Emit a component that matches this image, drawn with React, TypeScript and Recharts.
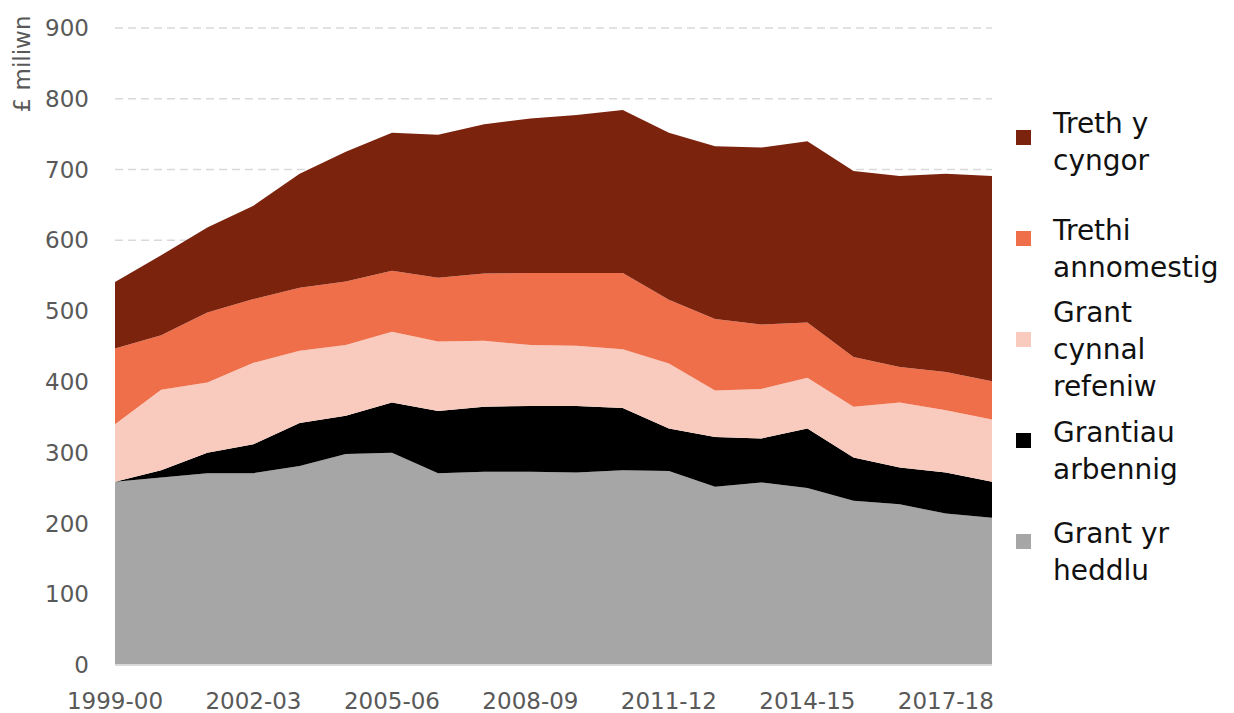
import { AreaChart, Area, XAxis, YAxis, CartesianGrid, Legend } from 'recharts';

const years = [
    '1999-00', '2000-01', '2001-02', '2002-03', '2003-04', '2004-05', '2005-06',
    '2006-07', '2007-08', '2008-09', '2009-10', '2010-11', '2011-12', '2012-13',
    '2013-14', '2014-15', '2015-16', '2016-17', '2017-18', '2018-19',
];
const grantHeddlu = [259, 265, 271, 271, 281, 298, 300, 271, 273, 273, 272, 275, 274, 252, 258, 250, 232, 227, 214, 208];
const grantiauArbennig = [0, 10, 29, 41, 61, 54, 71, 88, 92, 93, 94, 88, 60, 70, 62, 84, 61, 52, 58, 51];
const grantCynnal = [81, 114, 99, 115, 102, 100, 100, 98, 93, 86, 85, 83, 92, 66, 70, 72, 72, 92, 88, 88];
const trethiAnnomestig = [107, 77, 99, 90, 89, 90, 86, 90, 95, 102, 103, 108, 90, 101, 91, 78, 70, 50, 54, 54];
const trethCyngor = [94, 113, 120, 132, 161, 183, 195, 202, 211, 218, 223, 230, 236, 244, 250, 256, 263, 270, 280, 290];
const yTicks = [0, 100, 200, 300, 400, 500, 600, 700, 800, 900];

// bottom of the stack first
const series = [
    { key: 'heddlu', name: 'Grant yr heddlu', lines: ['Grant yr', 'heddlu'], color: '#a6a6a6', values: grantHeddlu },
    { key: 'arbennig', name: 'Grantiau arbennig', lines: ['Grantiau', 'arbennig'], color: '#000000', values: grantiauArbennig },
    { key: 'cynnal', name: 'Grant cynnal refeniw', lines: ['Grant', 'cynnal', 'refeniw'], color: '#f9cbbe', values: grantCynnal },
    { key: 'trethi', name: 'Trethi annomestig', lines: ['Trethi', 'annomestig'], color: '#ef6f4b', values: trethiAnnomestig },
    { key: 'treth', name: 'Treth y cyngor', lines: ['Treth y', 'cyngor'], color: '#7b230d', values: trethCyngor },
];

const data = years.map((year, i) => {
    const row: Record<string, string | number> = { year };
    series.forEach((s) => {
        row[s.key] = s.values[i];
    });
    return row;
});

const FONT = "'DejaVu Sans', sans-serif";

function renderLegend() {
    return (
        <div style={{ fontFamily: FONT }}>
            {[...series].reverse().map((s, i) => (
                <div
                    key={s.key}
                    style={{ height: 101, display: 'flex', alignItems: 'center' }}
                >
                    <div style={{ width: 15, height: 15, background: s.color, marginRight: 22, flexShrink: 0 }} />
                    <div style={{ fontSize: 28, lineHeight: '37px', color: '#111', paddingTop: i === 0 ? 8 : 20 }}>
                        {s.lines.map((l) => (
                            <div key={l}>{l}</div>
                        ))}
                    </div>
                </div>
            ))}
        </div>
    );
}

export default function App() {
    return (
        <div style={{ position: 'relative', width: 1234, height: 713, background: '#fff', fontFamily: FONT }}>
            <style>{`body{margin:0;overflow:hidden}`}</style>
            <AreaChart
                width={1234}
                height={713}
                data={data}
                margin={{ top: 28, right: 242, bottom: 0, left: 0 }}
            >
                <CartesianGrid vertical={false} stroke='#d9d9d9' strokeDasharray='8 5' strokeWidth={1.5} />
                <XAxis
                    dataKey='year'
                    interval={2}
                    height={48}
                    tickLine={false}
                    tickSize={0}
                    tickMargin={28}
                    axisLine={{ stroke: '#d9d9d9', strokeWidth: 2 }}
                    tick={{ fill: '#595959', fontSize: 23, fontFamily: FONT }}
                />
                <YAxis
                    domain={[0, 900]}
                    ticks={yTicks}
                    width={115}
                    tickLine={false}
                    axisLine={false}
                    tickSize={0}
                    tickMargin={26}
                    tick={{ fill: '#595959', fontSize: 23, fontFamily: FONT }}
                    label={{
                        content: () => (
                            <text
                                x={22}
                                y={64}
                                transform='rotate(-90 22 64)'
                                textAnchor='middle'
                                dominantBaseline='central'
                                fill='#595959'
                                fontSize={23}
                                fontFamily={FONT}
                            >
                                £ miliwn
                            </text>
                        ),
                    }}
                />
                {series.map((s) => (
                    <Area
                        key={s.key}
                        type='linear'
                        dataKey={s.key}
                        name={s.name}
                        stackId='1'
                        stroke='none'
                        fill={s.color}
                        fillOpacity={1}
                        isAnimationActive={false}
                    />
                ))}
                <Legend
                    layout='horizontal'
                    align='center'
                    verticalAlign='middle'
                    content={renderLegend}
                    wrapperStyle={{ left: 1016, top: 87, width: 218 }}
                />
            </AreaChart>
        </div>
    );
}
